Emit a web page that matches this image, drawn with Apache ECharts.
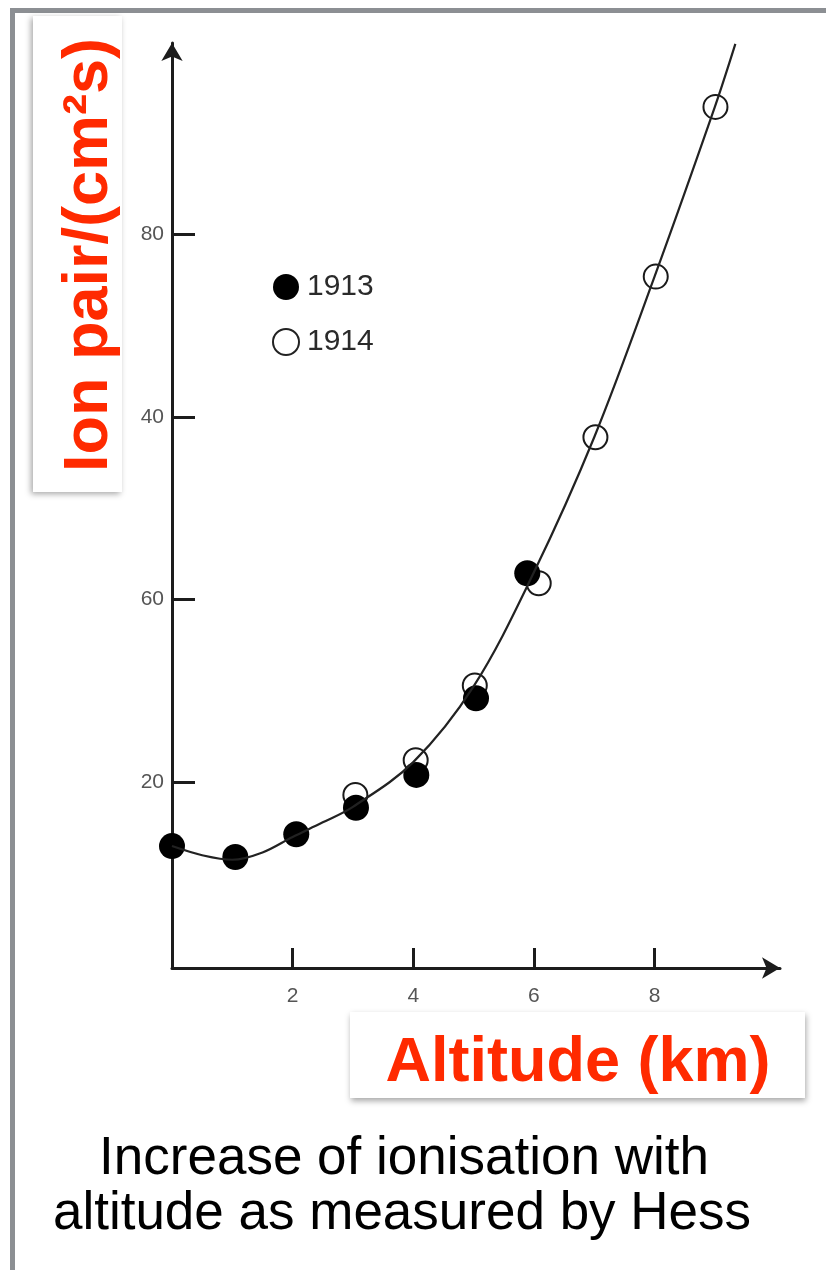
<!DOCTYPE html>
<html>
<head>
<meta charset="utf-8">
<script src="https://cdn.jsdelivr.net/npm/echarts@6/dist/echarts.min.js"></script>
<style>
html,body{margin:0;padding:0;background:#fff;}
#chart{width:826px;height:1270px;}
</style>
</head>
<body>
<div id="chart"></div>
<script>
// Altitude (km) and ionisation readings
const alt1913 = [0, 1.05, 2.06, 3.05, 4.05, 5.04, 5.89];
const ion1913 = [13.0, 11.8, 14.3, 17.2, 20.8, 29.2, 42.9];
const alt1914 = [3.04, 4.04, 5.02, 6.08, 7.02, 8.02, 9.01];
const ion1914 = [18.6, 22.4, 30.6, 41.8, 57.8, 75.4, 94.0];
const curveAlt = [0, 0.5, 1.0, 1.5, 2.0, 2.5, 3.0, 4.0, 5.0, 6.0, 7.0, 8.0, 9.0, 9.34];
const curveIon = [13.0, 12.0, 11.5, 12.3, 14.0, 15.6, 17.3, 22.2, 30.5, 43.0, 57.8, 75.4, 94.0, 100.9];
const xTickValues = [2, 4, 6, 8];
const xTickLabels = ['2', '4', '6', '8'];
const yTickValues = [20, 40, 60, 80];
const yTickLabels = ['20', '60', '40', '80'];
const seriesNames = ['1913', '1914'];
const yAxisTitle = 'Ion pair/(cm\u00B2s)';
const xAxisTitle = 'Altitude (km)';
const captionLines = ['Increase of ionisation with', 'altitude as measured by Hess'];

const zip = (a, b) => a.map((v, i) => [v, b[i]]);
const chart = echarts.init(document.getElementById('chart'), null, {renderer: 'canvas'});
const RED = '#ff2a00';
const AX = '#1c1c1c';

chart.setOption({
  backgroundColor: '#ffffff',
  animation: false,
  grid: {left: 172, right: 46, top: 43, bottom: 302, containLabel: false},
  xAxis: {
    type: 'value', min: 0, max: 10.08,
    axisLine: {show: true, onZero: false, symbol: ['none', 'arrow'], symbolSize: [16, 18], lineStyle: {color: AX, width: 3}},
    axisTick: {show: true, inside: true, length: 20, customValues: xTickValues, lineStyle: {color: AX, width: 3}},
    axisLabel: {show: true, customValues: xTickValues, margin: 18, color: '#555', fontSize: 21, fontFamily: 'Liberation Sans',
      formatter: v => xTickLabels[xTickValues.indexOf(v)] || ''},
    splitLine: {show: false}
  },
  yAxis: {
    type: 'value', min: -0.36, max: 101,
    axisLine: {show: true, onZero: false, symbol: ['none', 'arrow'], symbolSize: [16, 18], lineStyle: {color: AX, width: 3}},
    axisTick: {show: true, inside: true, length: 23, customValues: yTickValues, lineStyle: {color: AX, width: 3}},
    axisLabel: {show: true, customValues: yTickValues, margin: 8, color: '#555', fontSize: 21, fontFamily: 'Liberation Sans',
      formatter: v => yTickLabels[yTickValues.indexOf(v)] || ''},
    splitLine: {show: false}
  },
  legend: {
    orient: 'vertical', left: 267, top: 267,
    itemWidth: 26, itemHeight: 26, itemGap: 25,
    icon: 'circle',
    textStyle: {color: '#2a2a2a', fontSize: 30, fontFamily: 'Liberation Sans', lineHeight: 26, padding: [0, 0, 0, 3]},
    data: [
      {name: seriesNames[0], itemStyle: {color: '#000', borderWidth: 0}},
      {name: seriesNames[1], itemStyle: {color: '#fff', borderColor: '#222', borderWidth: 2}}
    ]
  },
  series: [
    {
      name: seriesNames[1], type: 'scatter', z: 2, symbol: 'circle', symbolSize: 24,
      itemStyle: {color: 'rgba(255,255,255,0)', borderColor: '#1a1a1a', borderWidth: 2, opacity: 1},
      data: zip(alt1914, ion1914)
    },
    {
      name: seriesNames[0], type: 'scatter', z: 3, symbol: 'circle', symbolSize: 26,
      itemStyle: {color: '#000', opacity: 1},
      data: zip(alt1913, ion1913)
    },
    {
      name: 'curve', type: 'line', z: 4, smooth: 0.35, showSymbol: false, symbol: 'none', clip: false,
      lineStyle: {color: '#222', width: 2.2},
      data: zip(curveAlt, curveIon)
    }
  ],
  graphic: [
    {type: 'line', shape: {x1: 12.5, y1: 10, x2: 12.5, y2: 1270}, style: {stroke: '#8c8f93', lineWidth: 5}},
    {type: 'line', shape: {x1: 10, y1: 10.5, x2: 826, y2: 10.5}, style: {stroke: '#8c8f93', lineWidth: 5}},
    {type: 'rect', z: 10, shape: {x: 33, y: 16, width: 89, height: 476},
      style: {fill: '#fff', shadowBlur: 6, shadowColor: 'rgba(0,0,0,0.35)', shadowOffsetX: -2, shadowOffsetY: 2}},
    {type: 'text', z: 11, x: 90, y: 255, rotation: Math.PI / 2,
      style: {text: yAxisTitle, fill: RED, font: 'bold 63px "Liberation Sans"', align: 'center', verticalAlign: 'middle'}},
    {type: 'rect', z: 10, shape: {x: 350, y: 1012, width: 455, height: 86},
      style: {fill: '#fff', shadowBlur: 6, shadowColor: 'rgba(0,0,0,0.35)', shadowOffsetX: 1, shadowOffsetY: 3}},
    {type: 'text', z: 11, x: 578, y: 1064,
      style: {text: xAxisTitle, fill: RED, font: 'bold 63px "Liberation Sans"', align: 'center', verticalAlign: 'middle'}},
    {type: 'text', z: 11, x: 404, y: 1159,
      style: {text: captionLines[0], fill: '#000', font: '53px "Liberation Sans"', align: 'center', verticalAlign: 'middle'}},
    {type: 'text', z: 11, x: 402, y: 1214,
      style: {text: captionLines[1], fill: '#000', font: '53px "Liberation Sans"', align: 'center', verticalAlign: 'middle'}}
  ]
});
</script>
</body>
</html>
